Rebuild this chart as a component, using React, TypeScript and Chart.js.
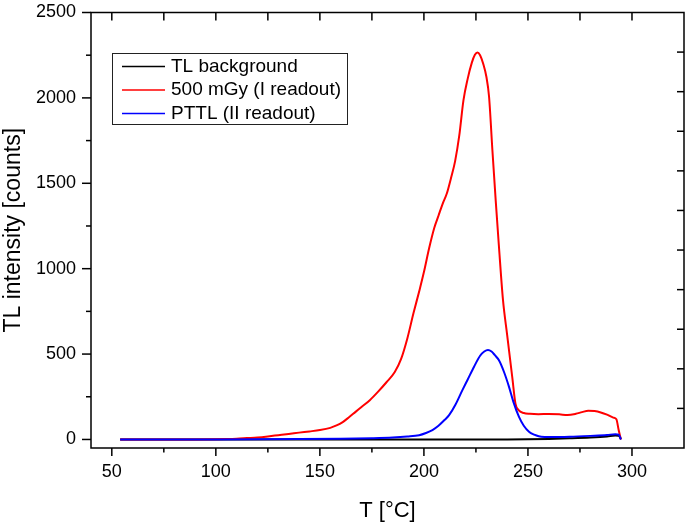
import React, { useEffect, useRef } from "react";
import { Chart, registerables } from "chart.js";
Chart.register(...registerables);

// ---- data ----
const xTicks = [50, 100, 150, 200, 250, 300];
const yTicks = [0, 500, 1000, 1500, 2000, 2500];
const xMinorStep = 25;
const yMinorStep = 250;
const rightTickDivisions = 11;

const seriesLabels = ["TL background", "500 mGy (I readout)", "PTTL (II readout)"];
const seriesColors = ["#000000", "#ff0000", "#0000ff"];

const tBackground = [54, 200, 240, 250, 260, 270, 280, 288, 292, 293.6, 294.7];
const vBackground = [0, 0, 0, 1, 3, 7, 12, 18, 23, 22, 3];

const tDose = [54, 70, 90, 100, 105, 110, 115, 120, 125, 130, 135, 140, 145, 150, 155, 158, 161, 164, 167, 170, 174, 178, 182, 186, 189, 192, 195, 198, 200, 202.5, 205, 207, 209, 211, 213, 215, 217, 219, 221, 223, 224.5, 225.7, 227, 228.5, 230, 231.3, 232.9, 234.5, 236, 238, 240, 242.5, 244, 245.5, 248, 251, 255, 260, 265, 269, 273, 276, 279, 282, 285, 288, 291, 292.5, 293.6, 294.7];
const vDose = [0, 0, 0, 1, 2, 4, 8, 12, 18, 25, 32, 40, 47, 55, 68, 82, 102, 130, 160, 190, 230, 280, 335, 395, 470, 590, 740, 880, 980, 1120, 1240, 1310, 1380, 1440, 1530, 1630, 1780, 1985, 2110, 2205, 2252, 2266, 2250, 2200, 2125, 2008, 1696, 1400, 1140, 817, 613, 360, 210, 172, 155, 150, 148, 149, 147, 143, 150, 160, 168, 166, 158, 145, 128, 118, 55, 0];

const tPttl = [54, 100, 140, 160, 175, 185, 192, 197.7, 201, 204.1, 207, 210, 212.1, 215, 218.5, 221, 224.1, 227, 229, 230.8, 232.5, 234, 236, 238.5, 240.9, 243, 245.7, 248, 250.5, 253, 255.2, 258, 262, 270, 280, 288, 292, 293.6, 294.7];
const vPttl = [0, 0, 2, 4, 7, 11, 17, 25, 38, 55, 80, 115, 142, 200, 289, 350, 426, 490, 515, 524, 515, 495, 465, 395, 308, 220, 132, 80, 45, 28, 19, 15, 14, 16, 21, 26, 31, 28, 0];

const FONT = "'Liberation Sans', Arial, Helvetica, sans-serif";

const toPoints = (t: number[], v: number[]) => t.map((x, i) => ({ x, y: v[i] }));

const framePlugin = {
  id: "frameTicks",
  afterDraw(chart: any) {
    const { ctx, chartArea: a, scales } = chart;
    const xs = scales.x;
    const ys = scales.y;
    ctx.save();
    ctx.strokeStyle = "#000";
    ctx.lineWidth = 1.5;
    const seg = (x1: number, y1: number, x2: number, y2: number) => {
      ctx.beginPath();
      ctx.moveTo(x1, y1);
      ctx.lineTo(x2, y2);
      ctx.stroke();
    };
    const xFirst = xTicks[0];
    const xLast = xTicks[xTicks.length - 1];
    const xMajorStep = xTicks[1] - xTicks[0];
    for (let v = xFirst; v <= xLast + 1e-6; v += xMinorStep) {
      const major = Math.abs((v - xFirst) % xMajorStep) < 1e-6;
      const px = xs.getPixelForValue(v);
      seg(px, a.bottom, px, a.bottom + (major ? 8 : 4.5));
      seg(px, a.top, px, a.top + 8);
    }
    const yFirst = yTicks[0];
    const yLast = yTicks[yTicks.length - 1];
    const yMajorStep = yTicks[1] - yTicks[0];
    for (let v = yFirst; v <= yLast + 1e-6; v += yMinorStep) {
      const major = Math.abs((v - yFirst) % yMajorStep) < 1e-6;
      const py = ys.getPixelForValue(v);
      seg(a.left, py, a.left - (major ? 9 : 5), py);
    }
    for (let i = 1; i < rightTickDivisions; i++) {
      const py = a.bottom - ((a.bottom - a.top) * i) / rightTickDivisions;
      seg(a.right, py, a.right - 7, py);
    }
    ctx.strokeRect(a.left, a.top, a.right - a.left, a.bottom - a.top);

    // legend box
    const bx = a.left + 21;
    const by = a.top + 40.5;
    const bw = 235;
    const bh = 71;
    ctx.lineWidth = 1;
    ctx.strokeStyle = "#222";
    ctx.strokeRect(bx + 0.5, by + 0.5, bw, bh);
    ctx.font = `19px ${FONT}`;
    ctx.textBaseline = "middle";
    ctx.textAlign = "left";
    seriesLabels.forEach((label, i) => {
      const ry = by + 13.5 + i * 23.5;
      ctx.strokeStyle = seriesColors[i];
      ctx.lineWidth = 1.5;
      seg(bx + 10, ry, bx + 53, ry);
      ctx.fillStyle = "#000";
      ctx.fillText(label, bx + 59, ry);
    });
    ctx.restore();
  },
};

export default function App() {
  const ref = useRef<HTMLCanvasElement | null>(null);
  useEffect(() => {
    if (!ref.current) return;
    const chart = new Chart(ref.current, {
      type: "line",
      data: {
        datasets: [
          { label: seriesLabels[0], data: toPoints(tBackground, vBackground), borderColor: seriesColors[0], order: 2 },
          { label: seriesLabels[1], data: toPoints(tDose, vDose), borderColor: seriesColors[1], order: 1 },
          { label: seriesLabels[2], data: toPoints(tPttl, vPttl), borderColor: seriesColors[2], order: 0 },
        ],
      },
      options: {
        animation: false,
        responsive: false,
        maintainAspectRatio: false,
        layout: { padding: { top: 12.5, right: 1, left: 0, bottom: 0 } },
        elements: {
          point: { radius: 0 },
          line: { borderWidth: 2, cubicInterpolationMode: "monotone", fill: false },
        },
        plugins: { legend: { display: false }, tooltip: { enabled: false } },
        scales: {
          x: {
            type: "linear",
            min: 40,
            max: 325,
            afterBuildTicks: (s: any) => {
              s.ticks = xTicks.map((value) => ({ value }));
            },
            afterFit: (s: any) => {
              s.height = 78;
              s.paddingLeft = 0;
              s.paddingRight = 0;
            },
            ticks: {
              autoSkip: false,
              maxRotation: 0,
              padding: 13,
              color: "#000",
              font: { family: FONT, size: 18 },
              callback: (v: any) => String(v),
            },
            grid: { display: false, drawTicks: false },
            border: { display: false },
            title: {
              display: true,
              text: "T [°C]",
              color: "#000",
              font: { family: FONT, size: 22 },
              padding: { top: 0, bottom: 2 },
            },
          },
          y: {
            type: "linear",
            min: -50,
            max: 2500,
            afterBuildTicks: (s: any) => {
              s.ticks = yTicks.map((value) => ({ value }));
            },
            afterFit: (s: any) => {
              s.width = 91;
              s.paddingTop = 0;
              s.paddingBottom = 0;
            },
            ticks: {
              autoSkip: false,
              padding: 15,
              color: "#000",
              font: { family: FONT, size: 18 },
              callback: (v: any) => String(v),
            },
            grid: { display: false, drawTicks: false },
            border: { display: false },
            title: {
              display: true,
              text: "TL intensity [counts]",
              color: "#000",
              font: { family: FONT, size: 23 },
              padding: { top: 0, bottom: 0 },
            },
          },
        },
      },
      plugins: [framePlugin],
    } as any);
    return () => chart.destroy();
  }, []);
  return (
    <div style={{ position: "fixed", left: 0, top: 0, width: 685, height: 526, background: "#fff" }}>
      <canvas ref={ref} width={685} height={526} style={{ width: 685, height: 526, display: "block" }} />
    </div>
  );
}
